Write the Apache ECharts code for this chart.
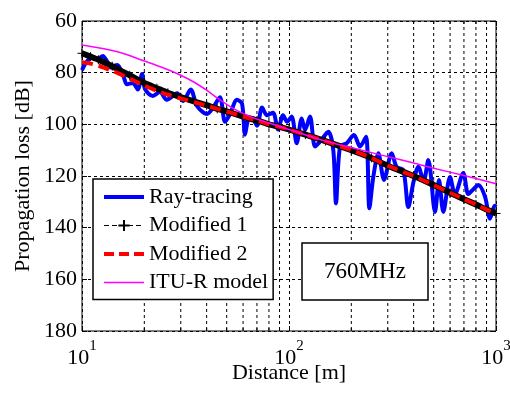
<!DOCTYPE html>
<html>
<head>
<meta charset="utf-8">
<script src="https://cdn.jsdelivr.net/npm/echarts@6/dist/echarts.min.js"></script>
<style>
  html, body { margin: 0; padding: 0; background: #fff; }
  #chart { width: 510px; height: 394px; }
</style>
</head>
<body>
<div id="chart"></div>
<script>
// Ray-tracing (noisy trace)
const rtDist = [10, 10.6, 11.3, 12.0, 12.6, 13.3, 13.7, 14.8, 15.8, 16.5, 17.6, 18.6, 19.5, 20.2, 22.0, 23.8, 25.7, 28.8, 30.8, 33.5, 36,
  40.2, 43, 46.4, 49.1, 51.9, 56.1, 59.3, 61.3, 63.4, 66.3, 70.1, 74.1, 78.3, 83.7, 88.5, 93.6, 98, 103, 108.9, 115.2, 119.5, 126.3,
  133.6, 141.2, 154.8, 163.7, 168.7, 176.4, 190, 206, 220.3, 235.5, 244.5, 255.5, 270.2, 287.7, 313.4, 331, 356.6, 377, 400, 421.6,
  447, 471, 507.5, 530.5, 556.6, 599.6, 633.8, 695, 734.8, 780, 821.5, 885, 935.4, 985, 1000];
const rtLoss = [79, 75.5, 74, 74.5, 73.5, 76, 78, 77, 81, 84.5, 84, 86.5, 80.5, 86.5, 89, 87.5, 90.5, 88, 91, 86.5, 93,
  96, 93.5, 89.5, 99, 96, 90.5, 92, 104, 98.5, 97.5, 100.5, 93.5, 96.5, 95.5, 102, 96.5, 99, 97, 107.3, 97.7, 102.2, 97,
  108.6, 106.7, 102.9, 110, 130.6, 108.6, 107.3, 104.1, 108.6, 104.8, 132.5, 120.3, 111.2, 121.5, 111.2, 116.5, 117.7, 132, 122, 116.4,
  122, 113.8, 133.9, 121.5, 133.9, 120.4, 127, 118.8, 127, 125, 123.5, 128, 136.5, 131.5, 132];

// Modified 1 / Modified 2
const modDist = [10, 11, 12, 13, 14, 15, 17, 20, 23, 26, 30, 35, 40, 45, 50, 60, 70, 80, 90, 100, 120, 150, 200, 250, 300, 400, 500, 600, 700, 800, 900, 1000];
const mod1Loss = [72.5, 73.8, 75, 76.3, 77.5, 78.8, 81, 84, 86, 87.8, 89.5, 91.2, 92.6, 94, 95, 97, 98.5, 100, 101, 102, 104, 106.5, 110, 113, 116, 120, 123.5, 126.5, 129, 131, 133, 134.5];
const mod2Loss = [76, 76.5, 77.3, 78.3, 79.3, 80.3, 82.3, 85, 87, 88.5, 90, 91.5, 92.8, 94, 95, 97, 98.5, 100, 101, 102, 104, 106.5, 110, 113, 116, 120, 123.5, 126.5, 129, 131, 133, 134.5];

// ITU-R model
const ituDist = [10, 15, 20, 25, 30, 35, 40, 45, 50, 55, 65, 80, 100, 125, 150, 200, 300, 400, 500, 700, 1000];
const ituLoss = [69.3, 72, 75.5, 78.3, 81, 83.8, 86.8, 89.8, 92.3, 94.3, 97, 99.5, 102, 104.5, 106.5, 109, 112.5, 115, 117, 119.8, 123];

const minorDist = [20, 30, 40, 50, 60, 70, 80, 90, 200, 300, 400, 500, 600, 700, 800, 900];

const FONT = '"Liberation Serif", "DejaVu Serif", serif';
const zip = (xs, ys) => xs.map((x, i) => [x, ys[i]]);
const plusIcon = 'path://M0,5L10,5M5,0L5,10';

const chart = echarts.init(document.getElementById('chart'), null, { renderer: 'canvas' });

const dashed = { color: '#000', width: 1, type: [3, 3] };

const option = {
  animation: false,
  backgroundColor: '#fff',
  grid: {
    left: 82, right: 14, top: 21, bottom: 63,
    show: true, borderColor: '#000', borderWidth: 1,
    outerBoundsMode: 'none',
  },
  xAxis: [
    {
      type: 'log', logBase: 10, min: 10, max: 1000,
      name: 'Distance [m]', nameLocation: 'middle', nameGap: 31, nameMoveOverlap: false,
      nameTextStyle: { fontFamily: FONT, fontSize: 22, color: '#000' },
      axisLine: { show: false },
      axisTick: { inside: true, length: 5, lineStyle: { color: '#000' } },
      splitLine: { show: true, lineStyle: dashed },
      axisLabel: {
        margin: 8, color: '#000',
        formatter: v => '{b|10}{s|' + Math.round(Math.log10(v)) + '}',
        rich: {
          b: { fontFamily: FONT, fontSize: 22, color: '#000', lineHeight: 30, verticalAlign: 'bottom' },
          s: { fontFamily: FONT, fontSize: 15, color: '#000', lineHeight: 30, verticalAlign: 'top' },
        },
      },
    },
    {
      type: 'log', logBase: 10, min: 10, max: 1000, position: 'top',
      axisLine: { show: false },
      axisTick: { inside: true, length: 5, lineStyle: { color: '#000' } },
      axisLabel: { show: false },
      splitLine: { show: false },
    },
  ],
  yAxis: [
    {
      type: 'value', inverse: true, min: 60, max: 180, interval: 20,
      name: 'Propagation loss [dB]', nameLocation: 'middle', nameGap: 48, nameMoveOverlap: false,
      nameTextStyle: { fontFamily: FONT, fontSize: 22, color: '#000' },
      axisLine: { show: false },
      axisTick: { inside: true, length: 5, lineStyle: { color: '#000' } },
      splitLine: { show: true, lineStyle: dashed },
      axisLabel: { margin: 5, fontFamily: FONT, fontSize: 22, color: '#000' },
    },
    {
      type: 'value', inverse: true, min: 60, max: 180, interval: 20, position: 'right',
      axisLine: { show: false },
      axisTick: { inside: true, length: 5, lineStyle: { color: '#000' } },
      axisLabel: { show: false },
      splitLine: { show: false },
    },
  ],
  legend: {
    orient: 'vertical', left: 93, top: 179,
    data: [
      { name: 'Ray-tracing', itemStyle: { opacity: 0 }, lineStyle: { width: 4 } },
      { name: 'Modified 1', lineStyle: { width: 1, type: [5, 3] } },
      { name: 'Modified 2', itemStyle: { opacity: 0 }, lineStyle: { width: 4, type: [10, 5] } },
      { name: 'ITU-R model', itemStyle: { opacity: 0 }, lineStyle: { width: 1.5 } },
    ],
    backgroundColor: '#fff', borderColor: '#000', borderWidth: 1.5,
    padding: [6, 5, 5, 9],
    itemWidth: 40, itemHeight: 14, itemGap: 4.5,
    textStyle: { fontFamily: FONT, fontSize: 22, color: '#000', lineHeight: 24 },
  },
  graphic: [
    {
      type: 'rect', x: 302, y: 243, z: 100,
      shape: { x: 0, y: 0, width: 126, height: 57 },
      style: { fill: '#fff', stroke: '#000', lineWidth: 1.5 },
    },
    {
      type: 'text', x: 365, y: 272, z: 101,
      style: { text: '760MHz', font: '23px ' + FONT, fill: '#000', align: 'center', verticalAlign: 'middle' },
    },
  ],
  series: [
    {
      // minor log grid lines and ticks
      type: 'custom', silent: true, z: 1,
      data: minorDist.map(d => [d]),
      renderItem: (params, api) => {
        const top = api.coord([api.value(0), 60]);
        const bot = api.coord([api.value(0), 180]);
        return {
          type: 'group',
          children: [
            { type: 'line', shape: { x1: top[0], y1: top[1], x2: bot[0], y2: bot[1] }, style: { stroke: '#000', lineWidth: 1, lineDash: [3, 3] } },
            { type: 'line', shape: { x1: bot[0], y1: bot[1], x2: bot[0], y2: bot[1] - 3 }, style: { stroke: '#000', lineWidth: 1 } },
            { type: 'line', shape: { x1: top[0], y1: top[1], x2: top[0], y2: top[1] + 3 }, style: { stroke: '#000', lineWidth: 1 } },
          ],
        };
      },
    },
    {
      name: 'Ray-tracing', type: 'line', z: 3,
      data: zip(rtDist, rtLoss), symbol: 'none', smooth: 0.3,
      lineStyle: { color: '#0000ff', width: 4 },
      itemStyle: { color: '#0000ff' },
    },
    {
      // thick black band under the Modified 1 markers
      type: 'line', z: 4, silent: true,
      data: zip(modDist, mod1Loss), symbol: 'none', smooth: 0.2,
      lineStyle: { color: '#000', width: 6 },
    },
    {
      name: 'Modified 1', type: 'line', z: 5,
      data: zip(modDist, mod1Loss), symbol: plusIcon, symbolSize: 9, showAllSymbol: true, smooth: 0.2,
      lineStyle: { color: '#000', width: 1, type: [4, 3] },
      itemStyle: { color: '#000', borderColor: '#000', borderWidth: 1 },
    },
    {
      name: 'Modified 2', type: 'line', z: 6,
      data: zip(modDist, mod2Loss), symbol: 'none', smooth: 0.2,
      lineStyle: { color: '#ff0000', width: 4, type: [11, 6] },
      itemStyle: { color: '#ff0000' },
    },
    {
      name: 'ITU-R model', type: 'line', z: 7,
      data: zip(ituDist, ituLoss), symbol: 'none', smooth: 0.3,
      lineStyle: { color: '#ff00ff', width: 1.5 },
      itemStyle: { color: '#ff00ff' },
    },
  ],
};

chart.setOption(option);
</script>
</body>
</html>
